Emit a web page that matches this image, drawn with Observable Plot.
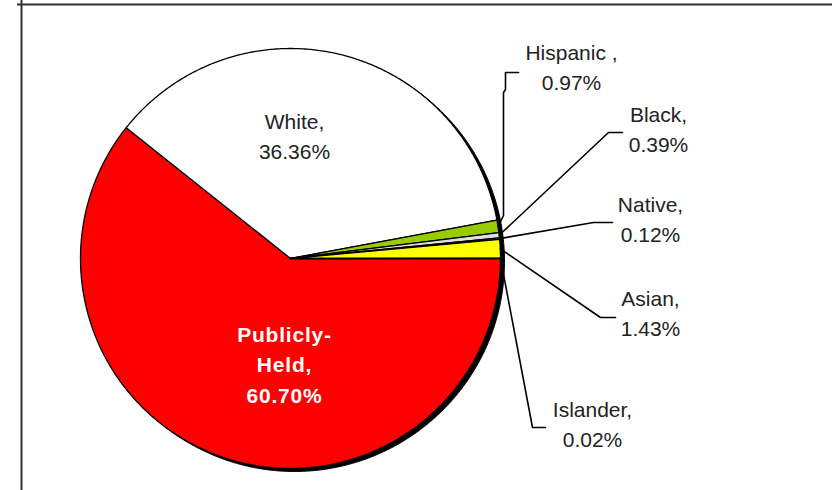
<!DOCTYPE html>
<html>
<head>
<meta charset="utf-8">
<script src="https://cdn.jsdelivr.net/npm/d3@7"></script>
<script src="https://cdn.jsdelivr.net/npm/@observablehq/plot@0.6"></script>
<style>
  html, body { margin: 0; padding: 0; background: #ffffff; }
  #chart svg { display: block; }
</style>
</head>
<body>
<div id="chart"></div>
<script>
// ---- data ----
const categories = ["Publicly-Held", "White", "Hispanic", "Black", "Native", "Asian", "Islander"];
const values = [60.70, 36.36, 0.97, 0.39, 0.12, 1.43, 0.02];
const labelNames = ["Publicly-\nHeld,", "White,", "Hispanic ,", "Black,", "Native,", "Asian,", "Islander,"];
const colors = ["#FF0000", "#FFFFFF", "#99CC00", "#E0E0E0", "#A0A0A0", "#FFFF00", "#FFFFFF"];

// ---- layout (pixels) ----
const W = 832, H = 490, CX = 290, CY = 258, R = 210;
const ux = px => (px - CX) / R;
const uy = py => (CY - py) / R;
// label centre x and vertical centre y
const labelPos = [
  [284, 362], [294, 134], [571, 65], [658, 127], [650, 217], [650, 311], [592, 422]
];
// leader line waypoints after the pie-edge point (null = no leader)
const leaderPts = [
  null, null,
  [[503, 215], [503, 92], [505, 89], [505, 72], [518, 72]],
  [[608, 132], [622, 132]],
  [[593, 222], [612, 222]],
  [[600, 317], [615, 317]],
  [[532, 427], [545, 427]]
];

// ---- geometry from data ----
const total = d3.sum(values);
let acc = 0;
const slices = categories.map((name, i) => {
  const a0 = acc / total * 2 * Math.PI;
  acc += values[i];
  const a1 = acc / total * 2 * Math.PI;
  return {name, value: values[i], color: colors[i], a0, a1, mid: (a0 + a1) / 2, i};
});
function slicePoints(s) {
  const pts = [{x: 0, y: 0}];
  const n = Math.max(2, Math.ceil((s.a1 - s.a0) / (Math.PI / 360)));
  for (let k = 0; k <= n; k++) {
    const a = s.a0 + (s.a1 - s.a0) * k / n;
    pts.push({x: Math.cos(a), y: -Math.sin(a)});
  }
  return pts;
}
const circlePts = slicePoints({a0: 0, a1: 2 * Math.PI});
const shOffX = 4 / R, shOffY = -3 / R;

const marks = [];
// frame rules
marks.push(Plot.ruleY([uy(4)], {x1: ux(17), x2: ux(W), stroke: "#333", strokeWidth: 2}));
marks.push(Plot.ruleX([ux(21)], {y1: uy(0), y2: uy(H), stroke: "#333", strokeWidth: 2}));
// shadow
marks.push(Plot.line(circlePts, {x: d => d.x + shOffX, y: d => d.y + shOffY, fill: "#000", stroke: "#000", strokeWidth: 1, curve: "linear-closed"}));
// slices
for (const s of slices) {
  marks.push(Plot.line(slicePoints(s), {x: "x", y: "y", fill: s.color, stroke: "#000", strokeWidth: 1.3, strokeLinejoin: "round", curve: "linear-closed"}));
}
// leader lines
const leaderRows = [];
slices.forEach((s, i) => {
  if (!leaderPts[i]) return;
  leaderRows.push({id: i, x: Math.cos(s.mid), y: -Math.sin(s.mid)});
  for (const [px, py] of leaderPts[i]) leaderRows.push({id: i, x: ux(px), y: uy(py)});
});
marks.push(Plot.line(leaderRows, {x: "x", y: "y", z: "id", stroke: "#000", strokeWidth: 1.6}));

// labels
const labelRows = slices.map((s, i) => ({
  text: `${labelNames[i]}\n${s.value.toFixed(2)}%`,
  x: ux(labelPos[i][0]), y: uy(labelPos[i][1]), i
}));
marks.push(Plot.text(labelRows.filter(d => d.i !== 0), {
  x: "x", y: "y", text: "text", fontSize: 21, lineHeight: 1.45, textAnchor: "middle", lineAnchor: "middle", fill: "#222"
}));
marks.push(Plot.text(labelRows.filter(d => d.i === 0), {
  x: "x", y: "y", text: "text", fontSize: 21, fontWeight: "bold", lineHeight: 1.45, textAnchor: "middle", lineAnchor: "middle", fill: "#ffffff"
}));

const chart = Plot.plot({
  width: W, height: H, margin: 0,
  x: {domain: [ux(0), ux(W)], range: [0, W]},
  y: {domain: [uy(H), uy(0)], range: [H, 0]},
  axis: null,
  style: {background: "#ffffff", fontFamily: "'Liberation Sans', Arial, sans-serif"},
  marks
});
chart.querySelectorAll("text").forEach(t => {
  if (t.textContent.includes("Publicly")) t.style.letterSpacing = "0.8px";
});
document.getElementById("chart").appendChild(chart);
</script>
</body>
</html>
